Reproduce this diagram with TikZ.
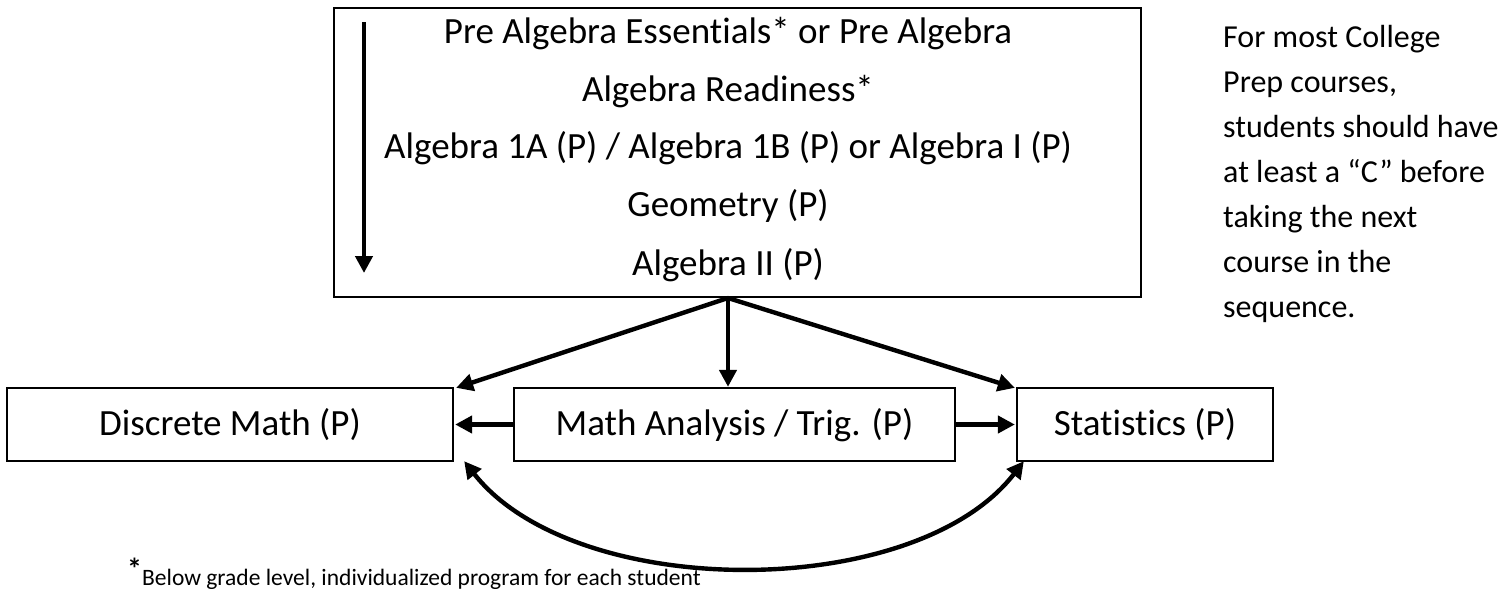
\documentclass[tikz,border=0pt]{standalone}
\usepackage{fontspec}
\setmainfont{Carlito}[Ligatures={NoCommon}]
\usetikzlibrary{arrows.meta}
\begin{document}
\begin{tikzpicture}[x=1pt,y=-1pt,
  box/.style={draw, line width=2.3pt, inner sep=0pt},
  big/.style={font=\fontsize{37}{44}\selectfont, inner sep=0pt, anchor=base},
  note/.style={font=\fontsize{32}{38}\selectfont, inner sep=0pt, anchor=base west},
  arr/.style={line width=4.4pt, -{Triangle[length=17pt,width=17pt]}}]
\useasboundingbox (0,0) rectangle (1502,589);
% top box
\node[box, minimum width=807pt, minimum height=289pt] (top) at (737.5,152.5) {};
\node[big] (l1) at (728,43) {Pre Algebra Essentials* or Pre Algebra};
\node[big] (l2) at (728,101) {Algebra Readiness*};
\node[big] (l3) at (728,158) {Algebra 1A (P) / Algebra 1B (P) or Algebra I (P)};
\node[big] (l4) at (728,216) {Geometry (P)};
\node[big] (l5) at (728,275) {Algebra II (P)};
\coordinate (va) at (364,22);
\coordinate (vb) at (364,273);
\draw[arr] (va) -- (vb);
% bottom boxes
\node[box, minimum width=446pt, minimum height=73pt] (disc) at (230,424.5) {};
\node[big] at (230,435) {Discrete Math (P)};
\node[box, minimum width=441pt, minimum height=73pt] (ma) at (734.5,424.5) {};
\node[big] at (734.5,435) {Math Analysis / Trig. (P)};
\node[box, minimum width=256pt, minimum height=73pt] (stat) at (1145,424.5) {};
\node[big] at (1145,435) {Statistics (P)};
% arrows
\coordinate (src) at (728,298);
\draw[arr] (src) -- ([xshift=2pt,yshift=-1pt]disc.north east);
\draw[arr] (src) -- ([xshift=-6.5pt]ma.north);
\draw[arr] (src) -- ([xshift=-1pt,yshift=-1pt]stat.north west);
\draw[arr] (ma.west) -- ([xshift=1pt]disc.east);
\draw[arr] (ma.east) -- ([xshift=-1pt]stat.west);
\draw[line width=4.4pt, {Triangle[length=17pt,width=17pt]}-{Triangle[length=17pt,width=17pt]}]
  ([xshift=10pt,yshift=1pt]disc.south east) .. controls (575,602) and (915,602) .. ([xshift=8pt,yshift=1pt]stat.south west);
% note
\node[note] (n1) at (1223,47) {For most College};
\node[note] (n2) at (1223,92) {Prep courses,};
\node[note] (n3) at (1223,137) {students should have};
\node[note] (n4) at (1223,182) {at least a “C” before};
\node[note] (n5) at (1223,227) {taking the next};
\node[note] (n6) at (1223,272) {course in the};
\node[note] (n7) at (1223,317) {sequence.};
% footnote
\node[inner sep=0pt, anchor=base west, font=\fontsize{23.5}{28}\selectfont] (fn) at (127,585)
  {\raisebox{6pt}{\fontsize{30}{30}\selectfont\bfseries *}Below grade level, individualized program for each student};
\end{tikzpicture}
\end{document}
